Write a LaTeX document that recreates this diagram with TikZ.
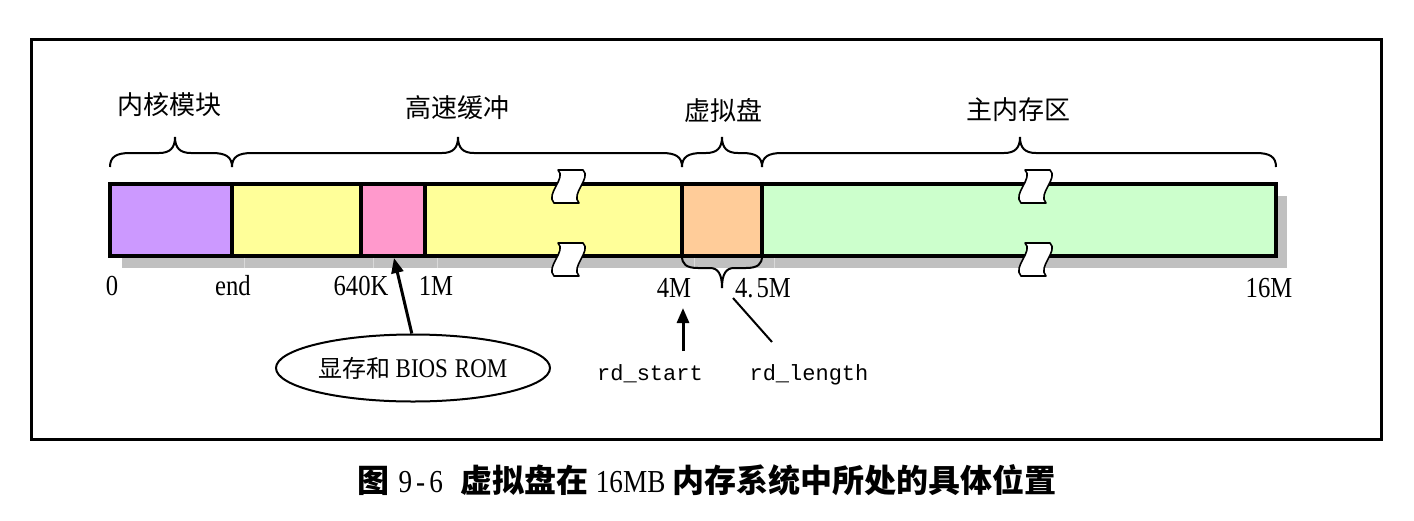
\documentclass[tikz,border=0pt]{standalone}
\usepackage{fontspec}
\newfontfamily\cjk{Noto Sans CJK SC}
\newfontfamily\numfont[FakeStretch=0.85]{Liberation Serif}
\newfontfamily\rdmono{Liberation Mono}
\usetikzlibrary{shapes.geometric,arrows.meta}
\definecolor{cpur}{HTML}{CC99FF}
\definecolor{cyel}{HTML}{FFFF99}
\definecolor{cpink}{HTML}{FF99CC}
\definecolor{corg}{HTML}{FFCC99}
\definecolor{cgrn}{HTML}{CCFFCC}
\definecolor{cshd}{HTML}{C0C0C0}
\newcommand\bracetop[3]{\draw[brc] (#1,167) .. controls (#1,157) and ({#1+6},153) .. ({#1+20},153) -- ({#2-16},153) .. controls ({#2-5},153) and (#2,148) .. (#2,137) .. controls (#2,148) and ({#2+5},153) .. ({#2+16},153) -- ({#3-20},153) .. controls ({#3-6},153) and (#3,157) .. (#3,167);}
\begin{document}
\begin{tikzpicture}[x=1pt,y=-1pt,
  brc/.style={line width=2pt},
  seg/.style={line width=4pt, draw=black},
  cjklbl/.style={font=\cjk\fontsize{26}{30}\selectfont, inner sep=0pt},
  axlbl/.style={font=\numfont\fontsize{29}{32}\selectfont, inner sep=0pt, anchor=base},
  mono/.style={font=\rdmono\fontsize{22}{26}\selectfont, inner sep=0pt, anchor=base},
  arr/.style={line width=3pt, -{Triangle[length=15pt,width=12pt]}},
  brk/.pic={\filldraw[fill=white, draw=black, line width=1.6pt, line join=round]
     (0,0) -- (25,0) .. controls (34,8) and (12,24) .. (21,33) -- (-4,33) .. controls (-13,24) and (9,8) .. (0,0) -- cycle;}
]
\useasboundingbox (0,0) rectangle (1414,520);
% outer frame
\draw[line width=3pt] (31,39) rectangle (1381,439);
% shadow
\fill[cshd] (122,196) rectangle (1287,268);
\foreach \a in {244,373,437,694,774}
  \draw[gray!30, line width=0.8pt] (\a,256) -- (\a,268);
% segments
\foreach \a/\b/\c in {110/232/cpur,232/361/cyel,361/425/cpink,425/682/cyel,682/762/corg,762/1276/cgrn}
  \filldraw[seg, fill=\c] (\a,184) rectangle (\b,256);
% breaks
\pic at (558,170) {brk};
\pic at (558,243) {brk};
\pic at (1025,170) {brk};
\pic at (1025,243) {brk};
% top braces
\bracetop{110}{175}{232}
\bracetop{232}{458}{682}
\bracetop{682}{722}{762}
\bracetop{762}{1020}{1276}
% bottom brace
\draw[brc] (682,256) .. controls (682,264) and (686,268) .. (698,268) -- (710,268) .. controls (718,268) and (722,274) .. (722,288) .. controls (722,274) and (726,268) .. (734,268) -- (746,268) .. controls (758,268) and (762,264) .. (762,256);
% labels above
\node[cjklbl] (lkern) at (169,105) {内核模块};
\node[cjklbl] (lbuf) at (457,108) {高速缓冲};
\node[cjklbl] (lrd) at (723,110) {虚拟盘};
\node[cjklbl] (lmain) at (1018,110) {主内存区};
% axis labels
\node[axlbl] (a0) at (112,295) {0};
\node[axlbl] (aend) at (233,295) {end};
\node[axlbl] (a640) at (361,295) {640K};
\node[axlbl] (a1m) at (436,295) {1M};
\node[axlbl] (a4m) at (674,297) {4M};
\node[axlbl] (a45m) at (763,297) {4.\hspace{3pt}5M};
\node[axlbl] (a16m) at (1269,297) {16M};
% ellipse
\node[ellipse, draw, line width=2pt, minimum width=274pt, minimum height=67pt, inner sep=0pt] (vram) at (413,368)
  {{\cjk\fontsize{24}{28}\selectfont 显存和}\hspace{5pt}{\numfont\fontsize{27}{30}\selectfont BIOS\hspace{7pt}ROM}};
\coordinate (pinktip) at (394,258);
\draw[arr] (vram.92) -- (pinktip);
% rd_start / rd_length
\node[mono] (rds) at (650,380) {rd\_start};
\node[mono] (rdl) at (809,380) {rd\_length};
\coordinate (rdbase) at (683,351);
\coordinate (rdtip) at (683,308);
\draw[arr] (rdbase) -- (rdtip);
\coordinate (rlt) at (733,298);
\coordinate (rlb) at (772,342);
\draw[line width=2pt] (rlb) -- (rlt);
% caption
\node[inner sep=0pt] (cap) at (707,480) {\cjk\bfseries\fontsize{32}{36}\selectfont 图\hspace{9pt}{\numfont\mdseries 9\hspace{4pt}-\hspace{4pt}6}\hspace{18pt}虚拟盘在\hspace{7pt}{\numfont\mdseries 16MB}\hspace{7pt}内存系统中所处的具体位置};
\end{tikzpicture}
\end{document}
